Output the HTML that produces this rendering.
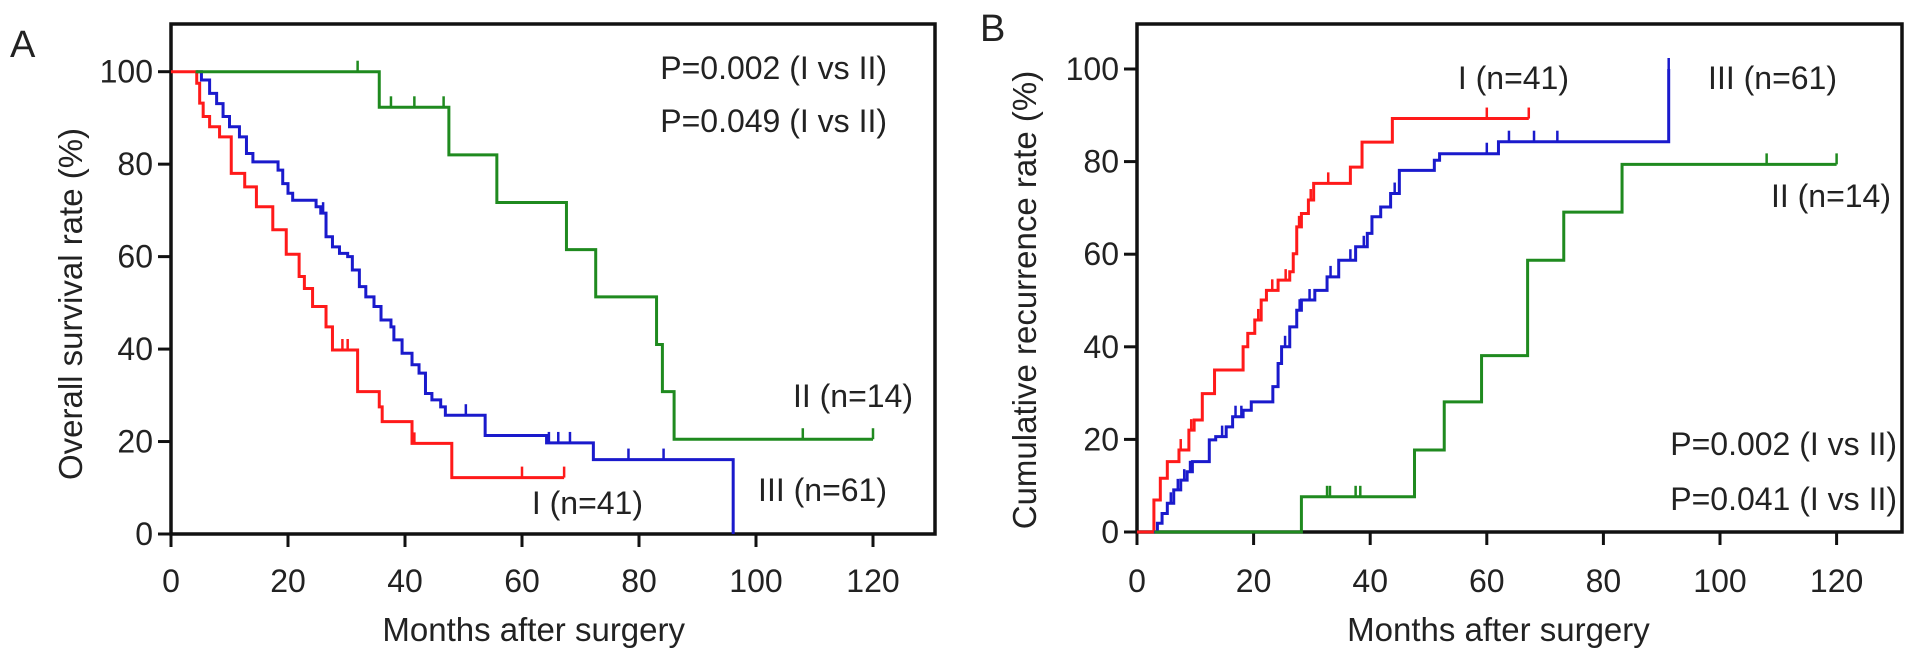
<!DOCTYPE html>
<html><head><meta charset="utf-8"><style>
html,body{margin:0;padding:0;background:#fff;}
svg{display:block;font-family:"Liberation Sans",Arial,sans-serif;}
</style></head><body>
<svg id="chart" width="1913" height="658" viewBox="0 0 1913 658" xmlns="http://www.w3.org/2000/svg">
<text x="10" y="57" font-size="38" fill="#222">A</text>
<text x="980" y="41" font-size="38" fill="#222">B</text>
<g id="pa"></g>
<g id="pb"></g>
</svg>
<script>
// ---------- Panel A data: overall survival ----------
const xTicks = [0, 20, 40, 60, 80, 100, 120];
const yTicks = [0, 20, 40, 60, 80, 100];

const aRedT = [4.4,4.9,5.5,6.6,8.3,10.3,12.6,14.6,17.4,19.7,21.9,22.8,24.2,26.5,27.6,31.9,35.6,36.1,41.2,48];
const aRedV = [97.5,93.2,90.3,88.1,85.9,78,75.1,70.8,65.8,60.5,55.7,53.1,49.2,44.8,39.8,30.8,27.5,24.3,19.6,12.2];
const aRedCens = [29.3,30.2,41.6,60];
const aRedEnd = 67.2;

const aBlueT = [5.2,6.6,7.8,8.9,10.0,11.7,12.9,14.0,18.3,19.1,20.0,20.8,24.8,25.6,26.5,27.6,28.8,30.2,31.0,32.2,33.3,34.7,35.9,37.6,38.1,39.5,41.2,42.4,43.5,44.6,46.1,46.9,53.7,64.2,72.2,96.1];
const aBlueV = [98.2,95.3,93.1,90.3,88.1,85.9,82.3,80.5,78.7,75.8,73.7,72.2,70.8,69.4,64.3,62.1,60.7,60.0,57.1,53.5,51.3,49.2,46.3,44.8,42.0,39.1,36.6,34.8,30.4,29.0,27.5,25.7,21.3,19.7,16.1,0];
const aBlueCens = [26.0,50.4,64.6,66.2,68.2,78.2,84.2];
const aBlueEnd = 96.1;

const aGreenT = [35.6,47.5,55.7,67.6,72.6,83,84,86];
const aGreenV = [92.3,82,71.7,61.5,51.3,41,30.8,20.5];
const aGreenCens = [31.9,37.6,41.6,46.6,108];
const aGreenEnd = 120;

// ---------- Panel B data: cumulative recurrence ----------
const bRedT = [2.9,4.0,5.2,7.2,8.9,9.8,11.2,13.3,18.2,19.0,20.2,21.3,22.2,24.2,26.2,26.8,27.4,28.2,29.4,30.3,36.6,38.6,43.8];
const bRedV = [6.9,11.6,15.2,17.7,22.0,24.2,29.9,35.0,40.0,42.9,45.8,50.1,52.2,54.4,56.2,60.1,65.9,68.8,71.7,75.3,78.8,84.2,89.3];
const bRedCens = [7.5,9.3,20.8,23.2,25.5,27.8,29.8,32.8,60];
const bRedEnd = 67.2;

const bBlueT = [3.5,4.3,5.2,6.3,7.5,8.6,9.5,12.4,13.5,15.3,16.4,18.2,19.6,23.3,24.2,24.8,26.2,27.4,28.2,30.5,32.6,34.6,37.5,39.5,40.3,41.8,43.5,45.0,51.0,51.9,62,91.2];
const bBlueV = [1.9,4.0,6.2,9.1,11.2,13.0,15.2,19.9,20.6,22.7,24.9,26.3,28.1,31.4,36.4,40.0,44.3,47.9,50.1,52.2,55.1,58.7,61.6,64.5,68.1,70.2,73.1,78.1,80.3,81.7,84.3,100];
const bBlueCens = [5.8,7.0,8.1,9.1,14.6,16.9,17.9,25.4,27.9,29.6,33.2,36.6,38.9,44.2,60,63.8,68.1,72.1];
const bBlueEnd = 91.2;

const bGreenT = [28.2,47.6,52.7,59.1,67.0,73.2,83.2];
const bGreenV = [7.6,17.7,28.1,38.1,58.7,69.1,79.4];
const bGreenCens = [32.6,33.1,37.5,38.3,108];
const bGreenEnd = 120;

const NS = "http://www.w3.org/2000/svg";
const FS = 32;
function mk(parent, tag, attrs){
  const e = document.createElementNS(NS, tag);
  for (const k in attrs) e.setAttribute(k, attrs[k]);
  parent.appendChild(e);
  return e;
}
function valueAt(T, V, v0, t){
  let v = v0;
  for (let i = 0; i < T.length; i++) { if (T[i] <= t) v = V[i]; }
  return v;
}

function drawPanel(g, cfg){
  const sx = m => cfg.x0 + m * cfg.kx;
  const sy = v => cfg.y0 - v * cfg.ky;
  const box = mk(g, 'rect', {x: cfg.x0, y: cfg.top, width: cfg.right - cfg.x0, height: cfg.y0 - cfg.top, fill: 'none', stroke: '#111', 'stroke-width': 3.5});
  
  
  yTicks.forEach(v => {
    const l = mk(g, 'line', {x1: cfg.x0 - 13, x2: cfg.x0, y1: sy(v), y2: sy(v), stroke: '#111', 'stroke-width': 3});
    
    
    const t = mk(g, 'text', {x: cfg.x0 - 18, y: sy(v) + 11, 'text-anchor': 'end', 'font-size': FS, fill: '#222'});
    t.textContent = v;
    
    
  });
  xTicks.forEach(m => {
    const l = mk(g, 'line', {x1: sx(m), x2: sx(m), y1: cfg.y0, y2: cfg.y0 + 13, stroke: '#111', 'stroke-width': 3});
    
    
    const t = mk(g, 'text', {x: sx(m), y: 592, 'text-anchor': 'middle', 'font-size': FS, fill: '#222'});
    t.textContent = m;
    
    
  });
  const xt = mk(g, 'text', {x: cfg.x0 + 62 * cfg.kx, y: 641, 'text-anchor': 'middle', 'font-size': FS + 1, fill: '#222'});
  xt.textContent = 'Months after surgery';
  
  
  const yt = mk(g, 'text', {x: 0, y: 0, 'text-anchor': 'middle', 'font-size': FS + 1, fill: '#222', transform: `translate(${cfg.ytx},${cfg.yty}) rotate(-90)`});
  yt.textContent = cfg.ytitle;
  
  

  cfg.series.forEach(s => {
    let d = `M${sx(s.start)},${sy(s.v0)}`;
    for (let i = 0; i < s.T.length; i++) { d += ` H${sx(s.T[i])} V${sy(s.V[i])}`; }
    d += ` H${sx(s.end)}`;
    const p = mk(g, 'path', {d: d, fill: 'none', stroke: s.color, 'stroke-width': 3});
    
    
    s.C.concat([s.end]).forEach(c => {
      const y = sy(valueAt(s.T, s.V, s.v0, c));
      const m = mk(g, 'line', {x1: sx(c), x2: sx(c), y1: y, y2: y - 11, stroke: s.color, 'stroke-width': 2.5});
      
      
    });
  });
  cfg.labels.forEach(L => {
    const t = mk(g, 'text', {x: L[1], y: L[2], 'text-anchor': L[3], 'font-size': FS, fill: '#222'});
    t.textContent = L[0];
    
    
  });
}

drawPanel(document.getElementById('pa'), {
  x0: 171, kx: 5.85, y0: 534, ky: 4.623, top: 24, right: 935,
  ytitle: 'Overall survival rate (%)', ytx: 82, yty: 304,
  series: [
    {name: 'series-stage-i', color: '#ff1a1a', T: aRedT, V: aRedV, C: aRedCens, end: aRedEnd, start: 0, v0: 100},
    {name: 'series-stage-iii', color: '#1a1acc', T: aBlueT, V: aBlueV, C: aBlueCens, end: aBlueEnd, start: 4.4, v0: 100},
    {name: 'series-stage-ii', color: '#1f8a1f', T: aGreenT, V: aGreenV, C: aGreenCens, end: aGreenEnd, start: 4.2, v0: 100}
  ],
  labels: [
    ['P=0.002 (I vs II)', 887, 79, 'end', 'p-value-1'],
    ['P=0.049 (I vs II)', 887, 132, 'end', 'p-value-2'],
    ['II (n=14)', 913, 407, 'end', 'label-stage-ii'],
    ['III (n=61)', 887, 501, 'end', 'label-stage-iii'],
    ['I (n=41)', 643, 514, 'end', 'label-stage-i']
  ]
});

drawPanel(document.getElementById('pb'), {
  x0: 1137, kx: 5.83, y0: 532, ky: 4.63, top: 24, right: 1902,
  ytitle: 'Cumulative recurrence rate (%)', ytx: 1036, yty: 300,
  series: [
    {name: 'series-stage-i', color: '#ff1a1a', T: bRedT, V: bRedV, C: bRedCens, end: bRedEnd, start: 0, v0: 0},
    {name: 'series-stage-iii', color: '#1a1acc', T: bBlueT, V: bBlueV, C: bBlueCens, end: bBlueEnd, start: 2.9, v0: 0},
    {name: 'series-stage-ii', color: '#1f8a1f', T: bGreenT, V: bGreenV, C: bGreenCens, end: bGreenEnd, start: 3.0, v0: 0}
  ],
  labels: [
    ['I (n=41)', 1569, 89, 'end', 'label-stage-i'],
    ['III (n=61)', 1837, 89, 'end', 'label-stage-iii'],
    ['II (n=14)', 1891, 207, 'end', 'label-stage-ii'],
    ['P=0.002 (I vs II)', 1897, 455, 'end', 'p-value-1'],
    ['P=0.041 (I vs II)', 1897, 510, 'end', 'p-value-2']
  ]
});
</script>
</body></html>
